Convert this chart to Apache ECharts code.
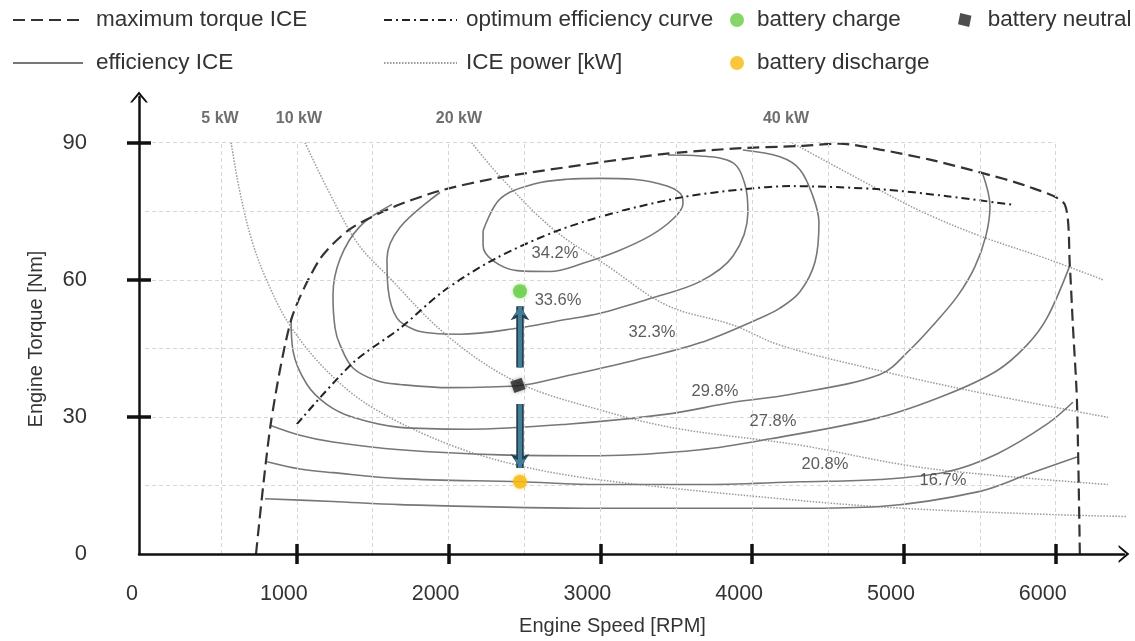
<!DOCTYPE html>
<html>
<head>
<meta charset="utf-8">
<script src="https://cdn.jsdelivr.net/npm/echarts@6/dist/echarts.min.js"></script>
<style>html,body{margin:0;padding:0;background:#fff;}#chart{width:1135px;height:641px;}</style>
</head>
<body>
<div id="chart"></div>
<script>
// ---------- axis values ----------
const xLabelValues = [0, 1000, 2000, 3000, 4000, 5000, 6000];
const xTickValues = [1000, 2000, 3000, 4000, 5000, 6000];
const yLabelValues = [0, 30, 60, 90];
const yTickValues = [30, 60, 90];
const gridXValues = [500, 1000, 1500, 2000, 2500, 3000, 3500, 4000, 4500, 5000, 5500, 6000];
const gridYValues = [15, 30, 45, 60, 75, 90];

// ---------- curves [RPM, Nm] ----------
const maxTorque = [[731,0],[828,28.5],[966,51.6],[1153,64.6],[1350,71.1],[1634,75.9],[1943,79.5],[2339,82.4],[2997,85.7],[3439,87.6],[3874,88.7],[4315,89.3],[4578,89.8],[4842,88.5],[5171,86.3],[5501,83.5],[5810,80.5],[6061,76.4],[6093,63.1],[6113,50.1],[6140,33.6],[6159,0]];
const optimumCurve = [[1000,28.4],[1372,41.9],[1680,49.4],[1965,57.5],[2306,64.6],[2714,70.7],[3109,74.8],[3544,78.1],[3939,79.8],[4249,80.5],[4842,79.8],[5283,78.3],[5718,76.4]];

const eff342 = [[2227,70.7],[2339,77.7],[2556,80.9],[2780,82.0],[2997,82.2],[3215,82.0],[3439,80.5],[3538,78.3],[3544,76.6],[3478,73.3],[3327,69.6],[3109,66.2],[2885,63.6],[2668,61.8],[2451,62.0],[2292,64.2],[2227,67.5],[2227,70.7]];
const eff336 = [[1943,79.1],[1680,71.5],[1594,64.6],[1601,58.1],[1660,51.6],[1779,49.0],[1897,48.3],[2075,48.1],[2451,49.4],[2734,51.1],[2997,52.7],[3327,55.9],[3656,59.6],[3874,65.2],[3972,74.8],[3953,80.8],[3874,85.6],[3656,87.1],[3445,87.3]];
const eff323 = [[1627,76.5],[1416,71.7],[1285,64.6],[1238,56.6],[1252,49.4],[1285,45.7],[1370,40.7],[1528,37.9],[1680,37.1],[2009,36.4],[2451,36.8],[2780,39.0],[3215,42.3],[3656,46.2],[4051,51.6],[4183,53.8],[4315,57.4],[4414,63.9],[4440,72.6],[4401,78.2],[4315,84.1],[4183,86.9],[3939,88.4]];
const eff298 = [[962,51.6],[975,44.4],[1067,37.1],[1199,32.7],[1370,29.9],[1680,27.7],[2121,27.3],[2780,28.4],[3439,30.6],[3874,33.2],[4249,34.9],[4842,39.3],[5040,44.7],[5204,50.5],[5356,56.6],[5468,62.9],[5540,69.6],[5567,76.1],[5520,83.1]];
const eff278 = [[823,28.2],[1021,26.0],[1238,24.5],[1680,22.8],[2339,21.7],[2997,21.5],[3656,22.8],[4120,25.2],[4842,29.9],[5283,34.9],[5613,40.1],[5810,45.7],[5942,51.6],[6093,63.1]];
const eff208 = [[804,20.2],[1021,18.6],[1238,17.8],[1680,16.5],[2470,15.8],[2997,15.2],[3656,15.2],[4315,15.8],[4842,16.3],[5283,18.0],[5613,21.9],[5942,28.4],[6113,33.2]];
const eff167 = [[790,12.1],[1238,11.5],[1680,10.8],[2997,10.0],[4315,10.0],[4842,10.4],[5501,13.7],[5830,17.6],[6140,21.2]];
const effCurves = [eff342, eff336, eff323, eff298, eff278, eff208, eff167];

const power5 = [[567,90],[620,80],[700,69],[800,60],[955,50],[1200,40],[1500,32],[2000,24],[2470,19.3],[3000,16.2],[4183,12.1],[5000,10.0],[6000,8.6],[6469,8.2]];
const power10 = [[1054,90],[1200,80],[1400,68],[1594,61],[2000,47.5],[2457,37.5],[3000,31.5],[3500,27.5],[4315,23.8],[5000,19.5],[5500,17.5],[6344,15.2]];
const power20 = [[2152,90],[2339,82.6],[2688,71.1],[3044,63.1],[3439,54.4],[3874,50.1],[4183,45.7],[4842,40.1],[5501,35.3],[6344,29.9]];
const power40 = [[4262,90],[4796,80.4],[5125,74.8],[5501,69.6],[5942,64.6],[6311,60.0]];
const powerCurves = [power5, power10, power20, power40];

// ---------- annotations ----------
const kwLabels = [[494,95.2,'5 kW'],[1014,95.2,'10 kW'],[2068,95.2,'20 kW'],[4223,95.2,'40 kW']];
const pctLabels = [[2701,65.7,'34.2%'],[2721,55.5,'33.6%'],[3340,48.4,'32.3%'],[3755,35.6,'29.8%'],[4137,28.9,'27.8%'],[4480,19.7,'20.8%'],[5257,16.1,'16.7%']];

const batteryCharge = [[2470,57.5]];
const batteryNeutral = [[2457,36.9]];
const batteryDischarge = [[2470,15.8]];
const arrowUp = [[2470,40.8],[2470,54.2]];
const arrowDown = [[2470,32.8],[2470,18.8]];

// ---------- chart ----------
const F = '"Liberation Sans", Arial, sans-serif';
const chart = echarts.init(document.getElementById('chart'), null, {renderer: 'canvas'});

const gridLineData = [];
gridXValues.forEach(v => gridLineData.push([{coord: [v, 0]}, {coord: [v, 90]}]));
gridYValues.forEach(v => gridLineData.push([{coord: [0, v]}, {coord: [6000, v]}]));

const hidden = {color: 'rgba(0,0,0,0)', borderWidth: 0};
const series = [];
series.push({
  type: 'line', name: 'grid', data: [], silent: true, z: 1,
  markLine: {silent: true, symbol: 'none', label: {show: false},
    lineStyle: {color: '#d6d6d6', type: [4, 3], width: 1}, data: gridLineData, animation: false}
});
powerCurves.forEach(c => series.push({
  type: 'line', name: 'ICE power [kW]', data: c, showSymbol: false, symbol: 'none', smooth: 0.35, z: 2,
  itemStyle: hidden, lineStyle: {color: '#9a9a9a', width: 1.5, type: [1.5, 1.5]}, silent: true
}));
effCurves.forEach(c => series.push({
  type: 'line', name: 'efficiency ICE', data: c, showSymbol: false, symbol: 'none', smooth: 0.35, z: 3,
  itemStyle: hidden, lineStyle: {color: '#777777', width: 1.6}, silent: true
}));
series.push({
  type: 'line', name: 'maximum torque ICE', data: maxTorque, showSymbol: false, symbol: 'none', smooth: 0.25, z: 4,
  itemStyle: hidden, lineStyle: {color: '#333333', width: 2.2, type: [12, 6]}, silent: true
});
series.push({
  type: 'line', name: 'optimum efficiency curve', data: optimumCurve, showSymbol: false, symbol: 'none', smooth: 0.3, z: 4,
  itemStyle: hidden, lineStyle: {color: '#222222', width: 2, type: [8, 4, 2, 4]}, silent: true
});
[[arrowUp], [arrowDown]].forEach(a => {
  series.push({type: 'lines', coordinateSystem: 'cartesian2d', z: 5, silent: true,
    symbol: ['none', 'arrow'], symbolSize: 14,
    lineStyle: {color: '#23404e', width: 7.5, opacity: 1},
    data: a.map(c => ({coords: c}))});
  series.push({type: 'lines', coordinateSystem: 'cartesian2d', z: 6, silent: true,
    symbol: ['none', 'arrow'], symbolSize: 10,
    lineStyle: {color: '#447d96', width: 4, opacity: 1},
    data: a.map(c => ({coords: c}))});
});
series.push({type: 'scatter', name: 'battery charge', data: batteryCharge, symbol: 'circle', symbolSize: 14, z: 7,
  itemStyle: {color: '#66cc44', shadowBlur: 4, shadowColor: 'rgba(102,204,68,0.6)'}});
series.push({type: 'scatter', name: 'battery neutral', data: batteryNeutral, symbol: 'rect', symbolSize: 12, symbolRotate: 20, z: 7,
  itemStyle: {color: '#222222', shadowBlur: 4, shadowColor: 'rgba(0,0,0,0.4)'}});
series.push({type: 'scatter', name: 'battery discharge', data: batteryDischarge, symbol: 'circle', symbolSize: 14, z: 7,
  itemStyle: {color: '#f8b90e', shadowBlur: 4, shadowColor: 'rgba(248,185,14,0.6)'}});
series.push({type: 'scatter', name: 'kwlabels', data: kwLabels, symbolSize: 1, z: 8, silent: true,
  itemStyle: {color: 'rgba(0,0,0,0)'},
  label: {show: true, position: 'inside', formatter: p => p.data[2], fontFamily: F, fontWeight: 'bold', fontSize: 16, color: '#4a4a4a'}});
series.push({type: 'scatter', name: 'pctlabels', data: pctLabels, symbolSize: 1, z: 8, silent: true,
  itemStyle: {color: 'rgba(0,0,0,0)'},
  label: {show: true, position: 'inside', formatter: p => p.data[2], fontFamily: F, fontSize: 16.5, color: '#333'}});

const legText = {fontFamily: F, fontSize: 22.5, color: '#333', lineHeight: 28};
function leg(name, left, top, w, icon, padLeft) {
  const d = {name: name};
  if (icon) d.icon = icon;
  const l = {data: [d], left: left, top: top, itemWidth: w, itemHeight: 14, selectedMode: false, padding: 0,
    textStyle: Object.assign({}, legText, {padding: [0, 0, 0, padLeft || 0]})};
  if (!icon) l.itemStyle = {opacity: 0};
  return l;
}

const chevron = 'path://M0,12 L10,0 L20,12 L17.5,12 L10,3.5 L2.5,12 Z';
const option = {
  animation: false,
  backgroundColor: '#ffffff',
  textStyle: {fontFamily: F},
  legend: [
    leg('maximum torque ICE', 12, 6, 70, null, 8),
    leg('optimum efficiency curve', 383, 6, 73, null, 4),
    leg('battery charge', 730, 6, 14, 'circle', 8),
    leg('battery neutral', 958, 6, 14, 'path://M2,0 L12,2.5 L10,12.5 L0,10 Z', 11),
    leg('efficiency ICE', 12, 49, 70, null, 8),
    leg('ICE power [kW]', 383, 49, 73, null, 4),
    leg('battery discharge', 730, 49, 14, 'circle', 8)
  ],
  grid: {left: 139, right: 11, top: 97, bottom: 70, containLabel: false},
  xAxis: [{
    type: 'value', min: -40, max: 6450, position: 'bottom', z: 10,
    name: 'Engine Speed [RPM]', nameLocation: 'middle', nameGap: 62,
    nameTextStyle: {fontFamily: F, fontSize: 20, color: '#333', padding: [0, 38, 0, 0]},
    axisLine: {show: true, onZero: false, lineStyle: {color: '#111', width: 2.5},
      symbol: ['none', chevron], symbolSize: [18, 12], symbolOffset: [0, 0]},
    axisTick: {show: true, customValues: xTickValues, length: 10, inside: false, lineStyle: {color: '#111', width: 3.5}},
    axisLabel: {customValues: xLabelValues, formatter: v => String(v), margin: 29, fontFamily: F, fontSize: 21.5, color: '#333', padding: [0, 26, 0, 0]},
    splitLine: {show: false}
  }, {
    type: 'value', min: -40, max: 6450, position: 'bottom', z: 10,
    axisLine: {show: false, onZero: false},
    axisTick: {show: true, customValues: xTickValues, length: 10, inside: true, lineStyle: {color: '#111', width: 3.5}},
    axisLabel: {show: false}, splitLine: {show: false}
  }],
  yAxis: [{
    type: 'value', min: 0, max: 100, position: 'left', z: 10,
    name: 'Engine Torque [Nm]', nameLocation: 'middle', nameGap: 93, nameRotate: 90,
    nameTextStyle: {fontFamily: F, fontSize: 20, color: '#333', padding: [0, 27, 0, 0]},
    axisLine: {show: true, onZero: false, lineStyle: {color: '#111', width: 2.5},
      symbol: ['none', chevron], symbolSize: [18, 12], symbolOffset: [0, 0]},
    axisTick: {show: true, customValues: yTickValues, length: 12, inside: false, lineStyle: {color: '#111', width: 3.5}},
    axisLabel: {customValues: yLabelValues, formatter: v => String(v), margin: 52, fontFamily: F, fontSize: 22, color: '#333'},
    splitLine: {show: false}
  }, {
    type: 'value', min: 0, max: 100, position: 'left', z: 10,
    axisLine: {show: false, onZero: false},
    axisTick: {show: true, customValues: yTickValues, length: 12, inside: true, lineStyle: {color: '#111', width: 3.5}},
    axisLabel: {show: false}, splitLine: {show: false}
  }],
  series: series
};
chart.setOption(option);
</script>
</body>
</html>
